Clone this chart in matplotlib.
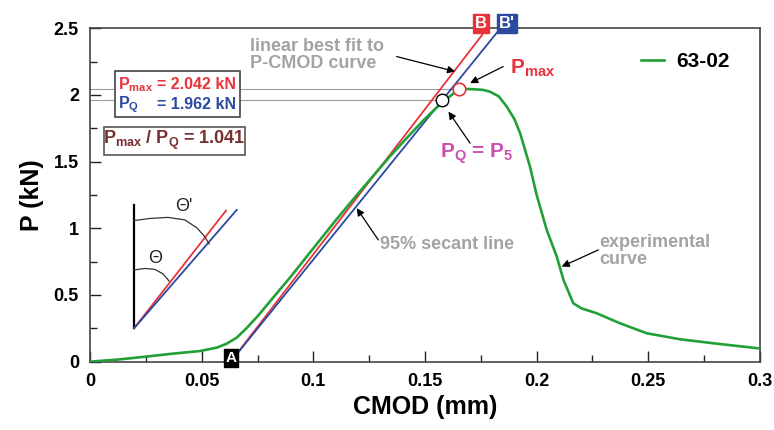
import matplotlib
matplotlib.use("Agg")
import matplotlib.pyplot as plt
from matplotlib.patches import Rectangle
import numpy as np

plt.rcParams['font.family'] = ['Liberation Sans', 'DejaVu Sans']
plt.rcParams['mathtext.fontset'] = 'custom'
plt.rcParams['mathtext.rm'] = 'Liberation Sans'
plt.rcParams['mathtext.bf'] = 'Liberation Sans:bold'
plt.rcParams['mathtext.it'] = 'Liberation Sans:italic'

# ---------------- data ----------------
cmod = [0, 0.0125, 0.0246, 0.037, 0.0493, 0.0567, 0.0612, 0.0657, 0.0700, 0.0750,
        0.0800, 0.0850, 0.0900, 0.1000, 0.1100, 0.1200, 0.1343, 0.1420, 0.1493, 0.1552,
        0.1600, 0.1642, 0.1680, 0.1717, 0.1760, 0.179, 0.1830, 0.1866, 0.1900, 0.1926,
        0.197, 0.2, 0.2045, 0.209, 0.212, 0.2164, 0.2200, 0.2269, 0.2373, 0.2493,
        0.2642, 0.2791, 0.2993]
load = [0, 0.016, 0.037, 0.06, 0.08, 0.105, 0.135, 0.18, 0.25, 0.34,
        0.44, 0.54, 0.64, 0.85, 1.06, 1.26, 1.54, 1.68, 1.81, 1.905,
        1.975, 2.03, 2.045, 2.043, 2.038, 2.025, 1.99, 1.913, 1.82, 1.713,
        1.463, 1.25, 0.988, 0.788, 0.613, 0.438, 0.40, 0.363, 0.288, 0.213,
        0.168, 0.138, 0.10]
series_name = "63-02"

# best-fit (red) and 95% secant (blue) lines: start at A, end at B / B'
fit_x = [0.063, 0.1756]
fit_y = [0.0, 2.451]
sec_x = [0.063, 0.1826]
sec_y = [0.0, 2.476]

p_max = 2.042
p_q = 1.962
cmod_pmax = 0.1654
cmod_pq = 0.1576

# schematic inset (angle sketch)
sk_vert_x = [0.0197, 0.0197]
sk_vert_y = [0.25, 1.175]
sk_red_x = [0.0197, 0.0609]
sk_red_y = [0.25, 1.133]
sk_blue_x = [0.0197, 0.0657]
sk_blue_y = [0.25, 1.138]
arc2_x = [0.0197, 0.0269, 0.0349, 0.0425, 0.0479, 0.0515, 0.0533]
arc2_y = [1.058, 1.074, 1.082, 1.063, 1.003, 0.935, 0.883]
arc1_x = [0.0197, 0.0246, 0.0291, 0.0327, 0.0354]
arc1_y = [0.688, 0.699, 0.692, 0.658, 0.605]

xticks = [0, 0.05, 0.1, 0.15, 0.2, 0.25, 0.3]
xticklabels = ['0', '0.05', '0.1', '0.15', '0.2', '0.25', '0.3']
yticks = [0, 0.5, 1, 1.5, 2, 2.5]
yticklabels = ['0', '0.5', '1', '1.5', '2', '2.5']

RED = '#e8323c'
BLUE = '#2b4aa0'
GREEN = '#22a038'
GRAY = '#a3a3a3'
BROWN = '#7b2e2e'
MAGENTA = '#cc4fb0'

fig = plt.figure(figsize=(7.74, 4.30), dpi=100)
ax = fig.add_axes([0.1163, 0.1589, 0.8656, 0.7753])

# reference horizontal lines
ax.plot([0, cmod_pmax], [p_max, p_max], color='#9a9a9a', lw=0.8, zorder=1)
ax.plot([0, cmod_pq], [p_q, p_q], color='#9a9a9a', lw=0.8, zorder=1)

ax.plot(fit_x, fit_y, color=RED, lw=1.3, zorder=3, clip_on=False)
ax.plot(sec_x, sec_y, color=BLUE, lw=1.3, zorder=3, clip_on=False)
ax.plot(cmod, load, color=GREEN, lw=1.9, zorder=4, label=series_name)

ax.plot([cmod_pmax], [p_max], 'o', ms=9, mfc='white', mec=RED, mew=1.2, zorder=6)
ax.plot([cmod_pq], [p_q], 'o', ms=9, mfc='white', mec='black', mew=1.0, zorder=6)

# inset sketch
ax.plot(sk_vert_x, sk_vert_y, color='black', lw=1.6, zorder=3)
ax.plot(sk_red_x, sk_red_y, color=RED, lw=1.3, zorder=3)
ax.plot(sk_blue_x, sk_blue_y, color=BLUE, lw=1.3, zorder=3)
ax.plot(arc2_x, arc2_y, color='#333333', lw=0.9, zorder=3)
ax.plot(arc1_x, arc1_y, color='#333333', lw=0.9, zorder=3)
ax.text(0.0418, 1.163, "Θ'", fontsize=13, ha='center', va='center', color='#222222')
ax.text(0.0291, 0.776, "Θ", fontsize=13, ha='center', va='center', color='#222222')

# axes styling
ax.set_xlim(0, 0.3)
ax.set_ylim(0, 2.5)
ax.set_xticks(xticks)
ax.set_xticklabels(xticklabels)
ax.set_yticks(yticks)
ax.set_yticklabels(yticklabels)
ax.set_xticks(np.arange(0.025, 0.3, 0.05), minor=True)
ax.set_yticks(np.arange(0.25, 2.5, 0.5), minor=True)
ax.tick_params(which='major', direction='in', length=8, width=1.0, labelsize=13, pad=8,
               color='#222222')
ax.tick_params(which='minor', direction='in', length=5, width=1.0, color='#222222')
for lab in ax.get_xticklabels() + ax.get_yticklabels():
    lab.set_fontweight('bold')
for s in ax.spines.values():
    s.set_color('#444444')
    s.set_linewidth(1.2)
ax.set_xlabel('CMOD (mm)', fontsize=18, fontweight='bold', labelpad=4)
ax.set_ylabel('P (kN)', fontsize=18, fontweight='bold', labelpad=7)

# legend
ax.legend(loc='center left', bbox_to_anchor=(0.822, 0.899), frameon=False,
          handlelength=1.1, handletextpad=0.6, borderpad=0, borderaxespad=0,
          prop={'size': 15, 'weight': 'bold'})

# labels A, B, B'
ax.text(0.0631, 0.027, 'A', color='white', fontsize=11, fontweight='bold', ha='center',
        va='center', zorder=7, clip_on=False,
        bbox=dict(boxstyle='square,pad=0.12', fc='black', ec='black'))
ax.text(0.1751, 2.539, 'B', color='white', fontsize=12, fontweight='bold', ha='center',
        va='center', zorder=7, clip_on=False,
        bbox=dict(boxstyle='square,pad=0.12', fc=RED, ec=RED))
ax.text(0.1867, 2.539, "B'", color='white', fontsize=12, fontweight='bold', ha='center',
        va='center', zorder=7, clip_on=False,
        bbox=dict(boxstyle='square,pad=0.12', fc=BLUE, ec=BLUE))

# annotations
arrow = dict(arrowstyle='-|>', color='black', lw=0.9, mutation_scale=11, shrinkA=0, shrinkB=0)
ax.text(0.0717, 2.43, 'linear best fit to\nP-CMOD curve', color=GRAY, fontsize=13,
        fontweight='bold', ha='left', va='top', linespacing=1.05)
ax.annotate('', xy=(0.1635, 2.176), xytext=(0.1373, 2.288), arrowprops=arrow)

ax.text(0.188, 2.20, r'$\mathbf{P}_{\mathbf{max}}$', color=RED, fontsize=15,
        ha='left', va='center')
ax.annotate('', xy=(0.1702, 2.089), xytext=(0.185, 2.213), arrowprops=arrow)

ax.text(0.1567, 1.56, r'$\mathbf{P}_{\mathbf{Q}}$ = $\mathbf{P}_{\mathbf{5}}$', color=MAGENTA,
        fontsize=15, fontweight='bold', ha='left', va='center')
ax.annotate('', xy=(0.1605, 1.875), xytext=(0.1702, 1.638), arrowprops=arrow)

ax.text(0.1299, 0.875, '95% secant line', color=GRAY, fontsize=13, fontweight='bold',
        ha='left', va='center')
ax.annotate('', xy=(0.1194, 1.151), xytext=(0.1291, 0.913), arrowprops=arrow)

ax.text(0.228, 0.96, 'experimental\ncurve', color=GRAY, fontsize=13, fontweight='bold',
        ha='left', va='top', linespacing=1.05)
ax.annotate('', xy=(0.2112, 0.713), xytext=(0.2276, 0.838), arrowprops=arrow)

# value box 1
ax.add_patch(Rectangle((0.01116, 1.838), 0.0672 - 0.01116, 2.176 - 1.838, fc='white',
                       ec='#444444', lw=1.2, zorder=5))
ax.text(0.0125, 2.075, r'$\mathbf{P}_{\mathbf{max}}$', color=RED, fontsize=11.5,
        ha='left', va='center', zorder=6)
ax.text(0.0654, 2.075, '= 2.042 kN', color=RED, fontsize=11.5, fontweight='bold',
        ha='right', va='center', zorder=6)
ax.text(0.0125, 1.93, r'$\mathbf{P}_{\mathbf{Q}}$', color=BLUE, fontsize=11.5,
        ha='left', va='center', zorder=6)
ax.text(0.0654, 1.93, '= 1.962 kN', color=BLUE, fontsize=11.5, fontweight='bold',
        ha='right', va='center', zorder=6)

# ratio box
ax.add_patch(Rectangle((0.00627, 1.55), 0.0694 - 0.00627, 1.763 - 1.55, fc='white',
                       ec='#555555', lw=1.2, zorder=5))
ax.text(0.0378, 1.656, r'$\mathbf{P}_{\mathbf{max}}$ / $\mathbf{P}_{\mathbf{Q}}$ = 1.041',
        color=BROWN, fontsize=13, fontweight='bold', ha='center', va='center', zorder=6)

fig.savefig('out.png', dpi=100)
